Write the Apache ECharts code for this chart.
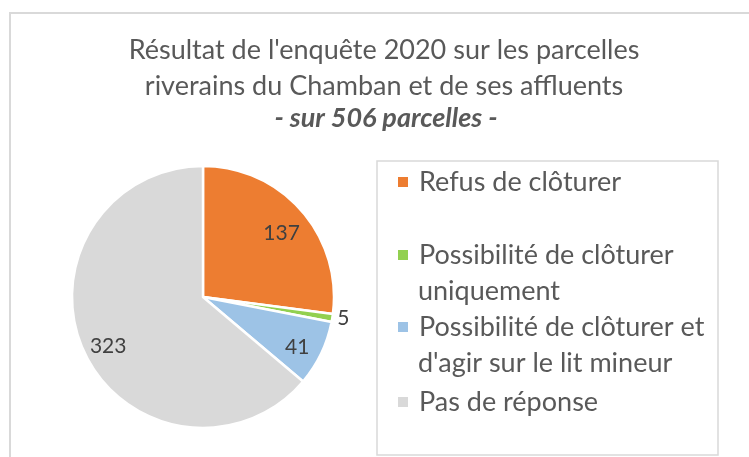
<!DOCTYPE html>
<html>
<head>
<meta charset="utf-8">
<script src="https://cdn.jsdelivr.net/npm/echarts@6/dist/echarts.min.js"></script>
<style>
  html, body { margin: 0; padding: 0; background: #fff; }
  #chart { width: 749px; height: 457px; }
</style>
</head>
<body>
<div id="chart"></div>
<script>
const categories = ['Refus de clôturer', 'Possibilité de clôturer uniquement', "Possibilité de clôturer et d'agir sur le lit mineur", 'Pas de réponse']
// legend text as it wraps in the original (first line, second line)
const legendLines = [['Refus de clôturer'], ['Possibilité de clôturer', 'uniquement'], ['Possibilité de clôturer et', "d'agir sur le lit mineur"], ['Pas de réponse']]
const values = [137, 5, 41, 323]
const colors = ['#ED7D31', '#92D050', '#9DC3E6', '#D9D9D9']

const titleLines = "Résultat de l'enquête 2020 sur les parcelles\nriverains du Chamban et de ses affluents"
const subTitle = '- sur 506 parcelles -'

const font = 'Lato, "Open Sans", sans-serif'
const textColor = '#595959'

const myChart = echarts.init(document.getElementById('chart'))

// one legend per line so each can sit where Excel put it
const legendTops = [182, 255, 327, 402]
const legendLineGap = 36
const legends = []
categories.forEach((name, i) => {
	legendLines[i].forEach((line, k) => {
		legends.push({
			orient: 'vertical',
			left: 396,
			top: legendTops[i] + k * legendLineGap - 18,
			padding: 0,
			itemWidth: 12,
			itemHeight: 12,
			icon: k === 0 ? 'rect' : 'none',
			selectedMode: false,
			data: [name],
			formatter: () => line,
			textStyle: {
				fontFamily: font,
				fontSize: 27,
				lineHeight: 36,
				color: textColor,
				padding: [0, 0, 0, 5]
			}
		})
	})
})

const labelStyle = {
	fontFamily: font,
	fontSize: 21,
	color: '#404040',
	formatter: '{c}'
}

myChart.setOption({
	animation: false,
	title: [
		{
			text: titleLines,
			left: 384,
			top: 32,
			textAlign: 'center',
			padding: 0,
			textStyle: {
				fontFamily: font,
				fontSize: 27,
				fontWeight: 'normal',
				lineHeight: 36,
				color: textColor
			}
		},
		{
			text: subTitle,
			left: 386,
			top: 100,
			textAlign: 'center',
			padding: 0,
			textStyle: {
				fontFamily: font,
				fontSize: 27,
				fontWeight: 'bold',
				fontStyle: 'italic',
				lineHeight: 36,
				color: textColor
			}
		}
	],
	legend: legends,
	graphic: [
		{
			type: 'rect',
			shape: { x: 10, y: 13, width: 800, height: 500 },
			style: { fill: 'none', stroke: '#D9D9D9', lineWidth: 2 },
			silent: true
		},
		{
			type: 'rect',
			shape: { x: 377, y: 161, width: 341, height: 294 },
			style: { fill: 'none', stroke: '#D9D9D9', lineWidth: 1.5 },
			silent: true
		}
	],
	series: [
		{
			type: 'pie',
			center: [203, 297],
			radius: [0, 131],
			startAngle: 90,
			clockwise: true,
			avoidLabelOverlap: false,
			emphasis: { disabled: true },
			itemStyle: { borderColor: '#fff', borderWidth: 2.5 },
			label: { show: false },
			labelLine: { show: false, length: 0, length2: 0 },
			data: categories.map((name, i) => ({
				name: name,
				value: values[i],
				itemStyle: { color: colors[i] },
				// the thin slice gets its value outside
				label: i === 1 ? Object.assign({ show: true, position: 'outside' }, labelStyle) : { show: false }
			}))
		},
		{
			// transparent ring only used to place the inner value labels further out
			type: 'pie',
			center: [203, 302],
			radius: [72, 131],
			startAngle: 90,
			clockwise: true,
			silent: true,
			legendHoverLink: false,
			itemStyle: { color: 'rgba(0,0,0,0)' },
			label: Object.assign({ show: true, position: 'inside' }, labelStyle),
			labelLine: { show: false },
			data: values.map((v, i) => ({
				name: categories[i] + ' ',
				value: v,
				label: { show: i !== 1 }
			}))
		}
	]
})
</script>
</body>
</html>
